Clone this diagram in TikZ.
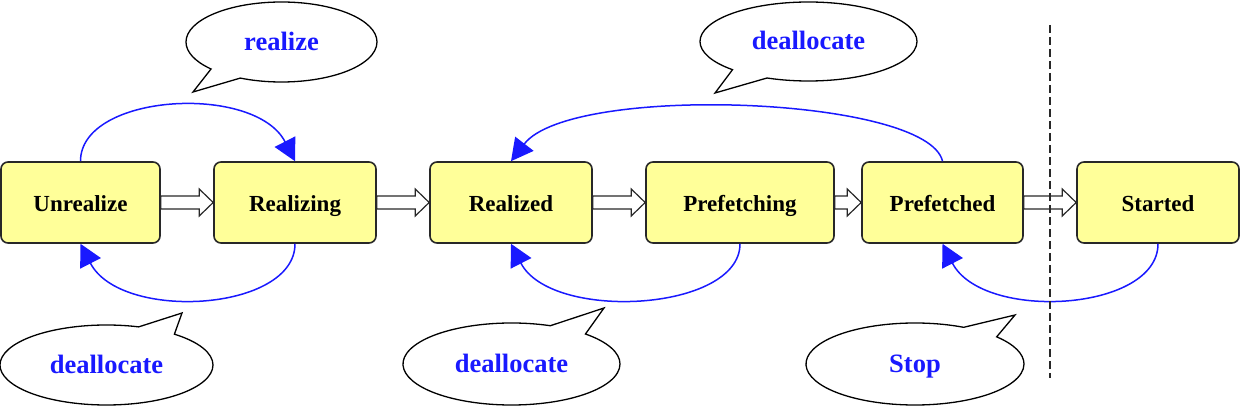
\documentclass[tikz,border=0pt]{standalone}
\usepackage{fontspec}
\setmainfont{Liberation Serif}
\usetikzlibrary{arrows.meta,shapes.callouts,calc}
\definecolor{boxfill}{RGB}{255,255,153}
\definecolor{lblue}{RGB}{25,25,255}
\definecolor{edgecol}{RGB}{40,40,40}
\begin{document}
\begin{tikzpicture}[x=1pt,y=1pt,
 state/.style={draw=edgecol, line width=1.6pt, fill=boxfill, rounded corners=7pt, minimum height=81pt, inner sep=0pt, text height=19pt, text depth=0pt, font=\fontsize{23}{26}\selectfont\bfseries},
 bubble/.style={ellipse callout, draw=black, line width=1.3pt, fill=white, inner sep=0pt, text height=17pt, text depth=0pt, font=\fontsize{26.5}{30}\selectfont\bfseries, text=lblue, callout pointer arc=22},
 trans/.style={draw=lblue, line width=1.5pt, -{Triangle[length=22pt,width=23pt]}},
 harrow/.style={draw=edgecol, line width=1.2pt, fill=white, to path={let \p1=(\tikztostart), \p2=(\tikztotarget) in (\x1,\y1+6.5pt) -- (\x2-14pt,\y1+6.5pt) -- (\x2-14pt,\y1+13.5pt) -- (\x2,\y1) -- (\x2-14pt,\y1-13.5pt) -- (\x2-14pt,\y1-6.5pt) -- (\x1,\y1-6.5pt) -- cycle}},
 divider/.style={draw=edgecol, line width=1.5pt, dash pattern=on 8pt off 4pt}
]
\useasboundingbox (0,0) rectangle (1244,420);
% bubbles
\node[bubble, minimum width=191pt, minimum height=80pt, callout absolute pointer={(193,328)}] (b1) at (281.5,378) {realize};
\node[bubble, minimum width=217pt, minimum height=79pt, callout absolute pointer={(715,327)}] (b2) at (808.5,378.5) {deallocate};
\node[bubble, minimum width=213pt, minimum height=80pt, callout absolute pointer={(182,107)}] (b3) at (106.5,55) {deallocate};
\node[bubble, minimum width=217pt, minimum height=82pt, callout absolute pointer={(604,112)}] (b4) at (511.5,56) {deallocate};
\node[bubble, minimum width=218pt, minimum height=82pt, callout absolute pointer={(1015,105)}] (b5) at (915,56) {Stop};
% states
\node[state, minimum width=159pt] (U) at (80.5,217.5) {Unrealize};
\node[state, minimum width=162pt] (Rg) at (295,217.5) {Realizing};
\node[state, minimum width=162pt] (Rd) at (511,217.5) {Realized};
\node[state, minimum width=188pt] (Pg) at (740,217.5) {Prefetching};
\node[state, minimum width=161pt] (Pd) at (942.5,217.5) {Prefetched};
\node[state, minimum width=162pt] (St) at (1158,217.5) {Started};
% hollow arrows
\draw[harrow] (U.east) to (Rg.west);
\draw[harrow] (Rg.east) to (Rd.west);
\draw[harrow] (Rd.east) to (Pg.west);
\draw[harrow] (Pg.east) to (Pd.west);
\draw[harrow] (Pd.east) to (St.west);
% transitions
\draw[trans] (U.north) .. controls +(0,68) and +(-40,78) .. (Rg.north);
\draw[trans] (Rg.south) .. controls +(0,-68) and +(40,-78) .. (U.south);
\draw[trans] (Pg.south) .. controls +(0,-68) and +(40,-78) .. (Rd.south);
\draw[trans] (Pd.north) .. controls +(-15,65) and +(60,78) .. (Rd.north);
\draw[trans] (St.south) .. controls +(0,-68) and +(40,-78) .. (Pd.south);
% divider
\coordinate (dtop) at (1050,395);
\coordinate (dbot) at (1050,42);
\draw[divider] (dtop) -- (dbot);
\end{tikzpicture}
\end{document}
